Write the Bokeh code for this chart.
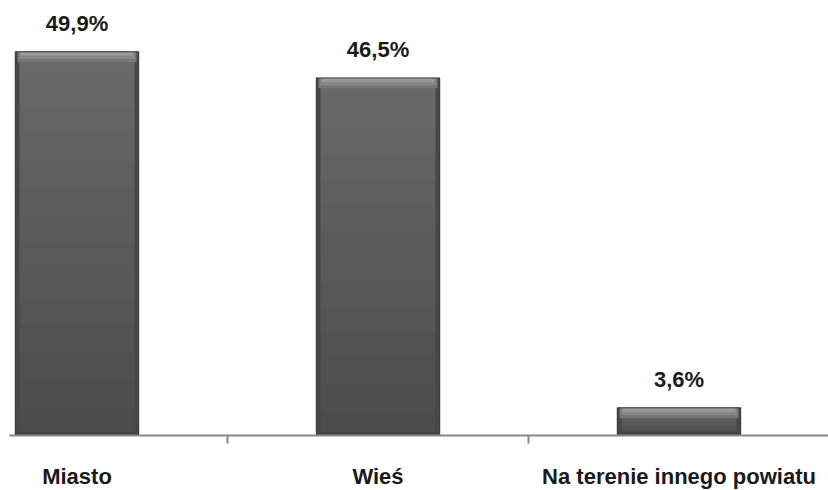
from bokeh.plotting import figure
from bokeh.models import Range1d, FixedTicker
from bokeh.core.properties import value
from bokeh.embed import file_html
from bokeh.resources import INLINE

categories = ["Miasto", "Wieś", "Na terenie innego powiatu"]
values = [49.9, 46.5, 3.6]
value_labels = ["49,9%", "46,5%", "3,6%"]

xs = list(range(len(categories)))
BAR_W = 0.41
FW = 819
X0 = -67.5 / 301

p = figure(frame_width=FW, frame_height=435, output_backend="svg", toolbar_location=None,
           x_range=Range1d(X0, X0 + FW / 301), y_range=Range1d(0, 435 / 7.69),
           y_axis_location=None, min_border_left=9, min_border_right=0, min_border_top=0,
           min_border_bottom=0)
p.outline_line_color = None
p.grid.grid_line_color = None
p.background_fill_color = "white"
p.border_fill_color = "white"

# gradient body of bars (overlapping slices of each bar's own value)
N = 14
body_top = "#686868"
body_bot = "#4c4c4c"
def mix(c1, c2, t):
    a = [int(c1[i:i + 2], 16) for i in (1, 3, 5)]
    b = [int(c2[i:i + 2], 16) for i in (1, 3, 5)]
    return "#%02x%02x%02x" % tuple(round(a[j] + (b[j] - a[j]) * t) for j in range(3))

for k in range(N):
    p.vbar(x=xs, top=[v * (N - k) / N for v in values], bottom=0, width=BAR_W,
           fill_color=mix(body_top, body_bot, k / (N - 1)), line_color=None)

# darker side edges
EDGE = 0.014
for sgn in (-1, 1):
    p.vbar(x=[x + sgn * (BAR_W / 2 - EDGE / 2) for x in xs], top=values, bottom=0,
           width=EDGE, fill_color="#474747", line_color=None)

# top bevel highlight
bands = [("#767676", 0.0, 1.35, 0.0), ("#888888", 0.0, 0.95, 0.012), ("#9a9a9a", 0.0, 0.5, 0.024)]
for col, a, b, shrink in bands:
    p.vbar(x=xs, top=[v - a for v in values], bottom=[v - b for v in values],
           width=BAR_W - 0.014 - shrink, fill_color=col, line_color=None)

# bottom bevel
p.vbar(x=xs, top=0.5, bottom=0, width=BAR_W - 0.01, fill_color="#434343", line_color=None)

# outline
p.vbar(x=xs, top=values, bottom=0, width=BAR_W, fill_color=None, line_color="#3a3a3a", line_width=1)

# value labels
p.text(x=xs, y=values, text=value_labels, y_offset=-16, text_align="center",
       text_baseline="bottom", text_font=value("Liberation Sans"), text_font_style="bold",
       text_font_size="22px", text_color="#1a1a1a")

ax = p.xaxis[0]
ax.ticker = FixedTicker(ticks=xs, minor_ticks=[x + 0.5 for x in xs[:-1]])
ax.major_label_overrides = {x: c for x, c in zip(xs, categories)}
ax.major_tick_out = 0
ax.major_tick_in = 0
ax.minor_tick_out = 8
ax.minor_tick_in = 0
ax.minor_tick_line_color = "#888888"
ax.minor_tick_line_width = 2
ax.axis_line_color = "#888888"
ax.axis_line_width = 2
ax.major_label_standoff = 20
ax.major_label_text_font = "Liberation Sans"
ax.major_label_text_font_style = "bold"
ax.major_label_text_font_size = "22px"
ax.major_label_text_color = "#1a1a1a"

open("out.html", "w").write(file_html(p, INLINE))
